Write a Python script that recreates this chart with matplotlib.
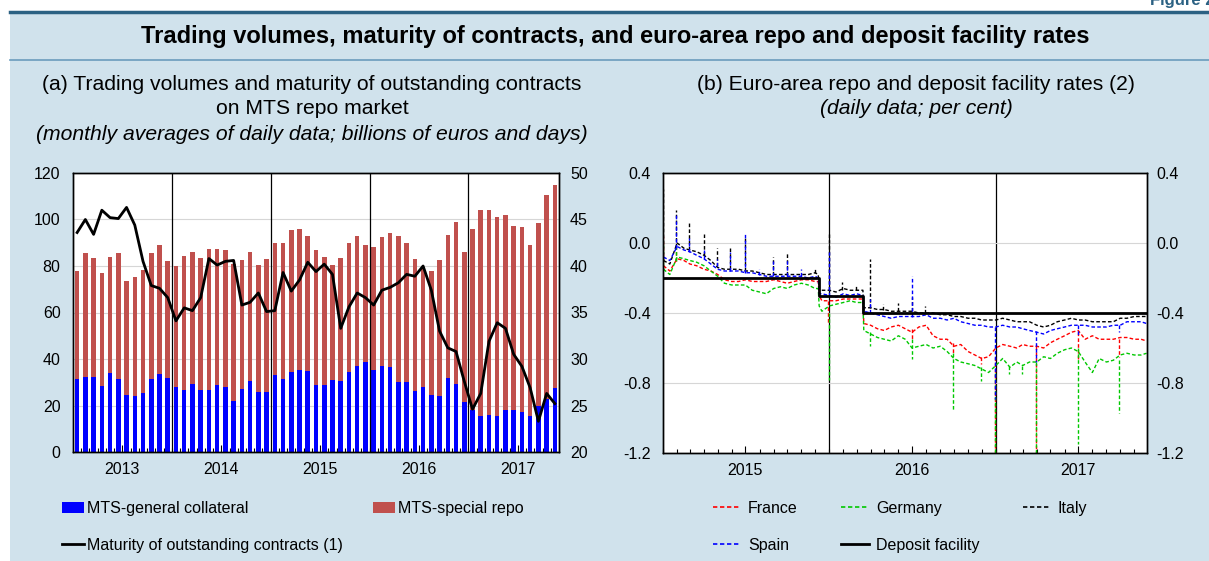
import matplotlib
matplotlib.use("Agg")
import matplotlib.pyplot as plt
import matplotlib.dates as mdates
from matplotlib.lines import Line2D
from matplotlib.patches import Patch, Rectangle
from matplotlib.ticker import FixedLocator, FormatStrFormatter
import numpy as np
import pandas as pd

plt.rcParams['font.family'] = ['Liberation Sans', 'DejaVu Sans']

# ---------------- panel (a): monthly averages, Jan 2013 - Nov 2017
years_a = ['2013', '2014', '2015', '2016', '2017']
# MTS-general collateral (billions of euros)
gc = [31.3, 32.2, 32.2, 28.3, 33.8, 31.5, 24.5, 24.0, 25.3, 31.2, 33.6, 31.8,
      27.8, 26.6, 29.2, 26.6, 26.6, 29.0, 28.0, 21.9, 27.0, 30.5, 25.8, 25.8,
      33.0, 31.2, 34.6, 35.3, 35.0, 29.0, 29.0, 30.9, 30.5, 34.6, 37.2, 38.9,
      35.2, 36.9, 36.5, 30.3, 30.0, 26.2, 27.8, 24.5, 24.0, 32.0, 29.3, 21.5,
      17.9, 15.5, 15.9, 15.5, 17.9, 17.9, 17.2, 15.5, 19.7, 22.6, 27.5]
# MTS-special repo (billions of euros)
special = [46.5, 53.2, 51.3, 48.8, 50.0, 54.3, 49.2, 51.2, 53.1, 54.5, 55.5, 50.5,
           52.3, 57.8, 56.9, 56.9, 60.8, 58.3, 59.0, 58.9, 55.5, 55.6, 54.7, 57.3,
           57.1, 58.9, 61.0, 60.4, 57.8, 57.7, 54.8, 49.6, 52.8, 55.4, 55.8, 50.2,
           52.8, 55.7, 57.9, 62.5, 60.1, 56.6, 51.7, 53.3, 58.4, 61.4, 69.7, 64.6,
           78.2, 88.5, 88.0, 85.5, 84.1, 79.2, 79.5, 73.6, 78.7, 88.0, 87.4]
# maturity of outstanding contracts (days, right scale)
maturity = [43.6, 45.0, 43.4, 46.0, 45.2, 45.1, 46.3, 44.4, 40.5, 37.9, 37.6, 36.6,
            34.1, 35.5, 35.2, 36.6, 40.8, 40.1, 40.5, 40.6, 35.8, 36.1, 37.1, 35.1,
            35.2, 39.3, 37.3, 38.5, 40.4, 39.4, 40.2, 39.1, 33.3, 35.6, 37.1, 36.6,
            35.8, 37.4, 37.7, 38.2, 39.1, 38.9, 40.0, 37.4, 33.0, 31.2, 30.8, 27.6,
            24.6, 26.3, 31.9, 33.9, 33.3, 30.5, 29.2, 26.9, 23.3, 26.3, 25.2]

# ---------------- panel (b): repo rates (per cent)
rate_dates = ['2015-01-02', '2015-01-16', '2015-02-01', '2015-02-16', '2015-03-01', '2015-03-16',
              '2015-04-01', '2015-04-16', '2015-05-01', '2015-05-16', '2015-06-01', '2015-06-16',
              '2015-07-01', '2015-07-16', '2015-08-01', '2015-08-16', '2015-09-01', '2015-09-16',
              '2015-10-01', '2015-10-16', '2015-11-01', '2015-11-16', '2015-12-01', '2015-12-08',
              '2015-12-10', '2015-12-16',
              '2016-01-01', '2016-01-16', '2016-02-01', '2016-02-16', '2016-03-01', '2016-03-15',
              '2016-03-17', '2016-04-01', '2016-04-16', '2016-05-01', '2016-05-16', '2016-06-01',
              '2016-06-16', '2016-07-01', '2016-07-16', '2016-08-01', '2016-08-16', '2016-09-01',
              '2016-09-16', '2016-10-01', '2016-10-16', '2016-11-01', '2016-11-16', '2016-12-01',
              '2016-12-16',
              '2017-01-01', '2017-01-16', '2017-02-01', '2017-02-16', '2017-03-01', '2017-03-16',
              '2017-04-01', '2017-04-16', '2017-05-01', '2017-05-16', '2017-06-01', '2017-06-16',
              '2017-07-01', '2017-07-16', '2017-08-01', '2017-08-16', '2017-09-01', '2017-09-16',
              '2017-10-01', '2017-10-16', '2017-11-01', '2017-11-16', '2017-11-28']

italy = [-0.10, -0.12, 0.00, -0.03, -0.04, -0.05, -0.07, -0.10, -0.14, -0.15, -0.15, -0.15,
         -0.16, -0.16, -0.17, -0.18, -0.18, -0.18, -0.18, -0.18, -0.18, -0.18, -0.17, -0.18,
         -0.27, -0.27,
         -0.27, -0.28, -0.26, -0.27, -0.27, -0.27, -0.37, -0.37, -0.38, -0.38, -0.39, -0.39,
         -0.39, -0.39, -0.40, -0.40, -0.40, -0.41, -0.41, -0.42, -0.42, -0.43, -0.43, -0.44,
         -0.44,
         -0.44, -0.43, -0.44, -0.45, -0.45, -0.45, -0.47, -0.48, -0.47, -0.45, -0.44, -0.43,
         -0.44, -0.44, -0.45, -0.45, -0.45, -0.45, -0.43, -0.43, -0.42, -0.42, -0.42]
spain = [-0.08, -0.10, -0.02, -0.04, -0.05, -0.07, -0.09, -0.12, -0.15, -0.16, -0.16, -0.16,
         -0.17, -0.17, -0.18, -0.19, -0.19, -0.19, -0.19, -0.19, -0.19, -0.20, -0.19, -0.20,
         -0.29, -0.29,
         -0.30, -0.31, -0.29, -0.30, -0.29, -0.30, -0.39, -0.40, -0.41, -0.42, -0.43, -0.42,
         -0.42, -0.42, -0.42, -0.41, -0.43, -0.43, -0.44, -0.43, -0.45, -0.46, -0.47, -0.47,
         -0.48,
         -0.48, -0.47, -0.48, -0.48, -0.49, -0.50, -0.51, -0.52, -0.50, -0.49, -0.48, -0.47,
         -0.47, -0.47, -0.48, -0.48, -0.48, -0.47, -0.47, -0.45, -0.45, -0.45, -0.46]
france = [-0.13, -0.16, -0.09, -0.10, -0.12, -0.13, -0.15, -0.16, -0.18, -0.21, -0.22, -0.22,
          -0.21, -0.22, -0.22, -0.22, -0.21, -0.22, -0.23, -0.22, -0.21, -0.21, -0.22, -0.22,
          -0.30, -0.33,
          -0.33, -0.33, -0.32, -0.32, -0.32, -0.32, -0.46, -0.47, -0.49, -0.50, -0.48, -0.47,
          -0.49, -0.51, -0.48, -0.47, -0.53, -0.55, -0.55, -0.59, -0.58, -0.62, -0.64, -0.66,
          -0.65,
          -0.60, -0.58, -0.59, -0.60, -0.58, -0.59, -0.59, -0.60, -0.57, -0.55, -0.53, -0.51,
          -0.50, -0.55, -0.53, -0.55, -0.55, -0.55, -0.54, -0.54, -0.55, -0.55, -0.56]
germany = [-0.15, -0.18, -0.08, -0.09, -0.10, -0.11, -0.13, -0.16, -0.19, -0.23, -0.24, -0.24,
           -0.24, -0.27, -0.28, -0.29, -0.26, -0.25, -0.26, -0.24, -0.23, -0.24, -0.26, -0.26,
           -0.36, -0.39,
           -0.36, -0.35, -0.34, -0.33, -0.34, -0.34, -0.50, -0.52, -0.54, -0.55, -0.56, -0.53,
           -0.55, -0.60, -0.59, -0.58, -0.60, -0.59, -0.62, -0.66, -0.68, -0.69, -0.70, -0.72,
           -0.74,
           -0.70, -0.66, -0.71, -0.68, -0.70, -0.68, -0.68, -0.65, -0.66, -0.63, -0.61, -0.60,
           -0.62, -0.68, -0.74, -0.66, -0.68, -0.67, -0.64, -0.63, -0.64, -0.64, -0.63]

# end-of-month spikes: date, level before, tip
italy_spk_dates = ['2015-01-02', '2015-01-30', '2015-02-27', '2015-03-31', '2015-04-30', '2015-05-29',
                   '2015-06-30', '2015-08-31', '2015-09-30', '2015-11-30', '2015-12-31', '2016-01-29',
                   '2016-02-29', '2016-03-31', '2016-04-29', '2016-05-31', '2016-06-30', '2016-07-29']
italy_spk_from = [-0.10, -0.02, -0.04, -0.07, -0.13, -0.15, -0.16, -0.18, -0.18, -0.17, -0.27, -0.27,
                  -0.27, -0.37, -0.38, -0.39, -0.39, -0.40]
italy_spk_to = [0.31, 0.19, 0.12, 0.05, -0.03, -0.03, 0.03, -0.08, -0.05, -0.15, 0.05, -0.22,
                -0.24, -0.09, -0.35, -0.34, -0.31, -0.36]

spain_spk_dates = ['2015-01-30', '2015-02-27', '2015-03-31', '2015-04-30', '2015-05-29', '2015-06-30',
                   '2015-07-31', '2015-08-31', '2015-09-30', '2015-10-30', '2015-12-31', '2016-03-31',
                   '2016-06-30', '2016-12-30', '2017-03-31', '2017-06-30', '2017-09-29']
spain_spk_from = [-0.03, -0.05, -0.09, -0.13, -0.16, -0.17, -0.18, -0.19, -0.19, -0.19, -0.30, -0.40,
                  -0.42, -0.48, -0.50, -0.47, -0.47]
spain_spk_to = [0.16, 0.03, -0.04, -0.09, -0.05, 0.06, -0.15, -0.10, -0.09, -0.15, -0.05, -0.32,
                -0.19, -0.89, -0.68, -0.53, -0.51]

france_spk_dates = ['2015-01-02', '2015-01-30', '2015-12-30', '2016-06-30', '2016-09-30', '2016-11-30',
                    '2016-12-30', '2017-03-31', '2017-06-30', '2017-09-29']
france_spk_from = [-0.14, -0.10, -0.33, -0.49, -0.57, -0.65, -0.65, -0.59, -0.51, -0.55]
france_spk_to = [0.04, -0.02, -0.46, -0.55, -0.63, -0.69, -1.25, -1.25, -0.66, -0.65]

germany_spk_dates = ['2015-01-02', '2015-01-30', '2015-12-31', '2016-03-31', '2016-06-30', '2016-09-30',
                     '2016-11-30', '2016-12-30', '2017-01-31', '2017-02-28', '2017-03-31', '2017-06-30',
                     '2017-09-29']
germany_spk_from = [-0.16, -0.10, -0.40, -0.51, -0.55, -0.63, -0.71, -0.74, -0.70, -0.70, -0.68, -0.60,
                    -0.67]
germany_spk_to = [0.01, -0.02, -0.78, -0.59, -0.66, -0.96, -0.79, -1.25, -0.75, -0.75, -1.25, -1.15,
                  -0.97]

depo_dates = ['2015-01-01', '2015-12-09', '2016-03-16', '2017-11-30']
depo = [-0.20, -0.30, -0.40, -0.40]

# ---------------- layout
W, H = 1209, 561
BG = '#d0e2ec'
BLUE = '#0000ff'
RED = '#c0504d'
TICK_FS = 11.5
LEG_FS = 11.5
SUB_FS = 15.2


def fx(px):
    return px / W


def fy(py):
    return 1 - py / H


fig = plt.figure(figsize=(W / 100, H / 100), dpi=100, facecolor='white')
fig.patches.append(Rectangle((fx(10), 0), 1 - fx(10), fy(12), transform=fig.transFigure,
                             facecolor=BG, edgecolor='none', zorder=-10))
fig.add_artist(Line2D([fx(10), 1], [fy(12), fy(12)], color='#2b6183', lw=2.5))
fig.add_artist(Line2D([fx(10), 1], [fy(60), fy(60)], color='#6b9cbd', lw=1.2))
fig.text(fx(1150), fy(1), 'Figure 2.', ha='left', va='center', fontsize=12,
         weight='bold', color='#2b6183')
fig.text(fx(615), fy(37), 'Trading volumes, maturity of contracts, and euro-area repo and deposit facility rates',
         ha='center', va='center', fontsize=17, weight='bold')

fig.text(fx(312), fy(85), '(a) Trading volumes and maturity of outstanding contracts',
         ha='center', va='center', fontsize=SUB_FS)
fig.text(fx(312), fy(109), 'on MTS repo market', ha='center', va='center', fontsize=SUB_FS)
fig.text(fx(312), fy(134), '(monthly averages of daily data; billions of euros and days)',
         ha='center', va='center', fontsize=SUB_FS, style='italic')
fig.text(fx(916), fy(85), '(b) Euro-area repo and deposit facility rates (2)',
         ha='center', va='center', fontsize=SUB_FS)
fig.text(fx(916), fy(109), '(daily data; per cent)', ha='center', va='center',
         fontsize=SUB_FS, style='italic')

# ---------------- panel (a)
ax1 = fig.add_axes([fx(73), fy(452), (559 - 73) / W, (452 - 173) / H])
x = np.arange(len(gc))
ax1.bar(x, gc, width=0.55, color=BLUE, zorder=2)
ax1.bar(x, special, bottom=gc, width=0.55, color=RED, zorder=2)
ax1.set_xlim(-0.5, len(gc) - 0.5)
ax1.set_ylim(0, 120)
ax1.set_yticks(range(0, 121, 20))
ax1.grid(axis='y', color='#d6d6d6', lw=0.8, zorder=0)
for k in range(1, len(years_a)):
    ax1.axvline(12 * k - 0.5, color='black', lw=0.9, zorder=3)
ax1.set_xticks([12 * k + 5.5 for k in range(len(years_a))])
ax1.set_xticklabels(years_a)
ax1.xaxis.set_minor_locator(FixedLocator(np.arange(len(gc) - 1) + 0.5))
ax1.tick_params(axis='x', which='major', direction='in', length=5, width=0.8,
                labelsize=TICK_FS, pad=7)
ax1.tick_params(axis='x', which='minor', direction='in', length=2.8, width=0.8)
ax1.tick_params(axis='y', length=0, labelsize=TICK_FS, pad=9)

ax1r = ax1.twinx()
ax1r.plot(x, maturity, color='black', lw=2.0, zorder=4)
ax1r.set_ylim(20, 50)
ax1r.set_yticks(range(20, 51, 5))
ax1r.tick_params(axis='y', length=0, labelsize=TICK_FS, pad=8)

h_a = [Patch(facecolor=BLUE), Line2D([], [], color='black', lw=2.0), Patch(facecolor=RED)]
l_a = ['MTS-general collateral', 'Maturity of outstanding contracts (1)', 'MTS-special repo']
fig.legend(h_a, l_a, loc='upper left', bbox_to_anchor=(fx(62), fy(501)), ncol=2,
           frameon=False, fontsize=LEG_FS, borderpad=0, borderaxespad=0,
           handlelength=1.35, handletextpad=0.2, columnspacing=1.9, labelspacing=1.35)

# ---------------- panel (b)
ax2 = fig.add_axes([fx(663), fy(453), (1147 - 663) / W, (453 - 173) / H])
d = pd.to_datetime(rate_dates)
dash = (0, (2.6, 1.6))
series = [(france, france_spk_dates, france_spk_from, france_spk_to, '#ff0000', 'France'),
          (germany, germany_spk_dates, germany_spk_from, germany_spk_to, '#00c800', 'Germany'),
          (italy, italy_spk_dates, italy_spk_from, italy_spk_to, 'black', 'Italy'),
          (spain, spain_spk_dates, spain_spk_from, spain_spk_to, BLUE, 'Spain')]
for vals, sd, sf, st, col, name in series:
    ax2.plot(d, vals, color=col, lw=1.0, ls=dash, zorder=2)
    ax2.vlines(pd.to_datetime(sd), sf, st, colors=col, lw=1.0, linestyles=dash, zorder=2)
ax2.step(pd.to_datetime(depo_dates), depo, where='post', color='black', lw=2.0, zorder=3)

ax2.set_xlim(pd.Timestamp('2015-01-01'), pd.Timestamp('2017-11-29'))
ax2.set_ylim(-1.2, 0.4)
rticks = [-1.2, -0.8, -0.4, 0.0, 0.4]
ax2.set_yticks(rticks)
ax2.yaxis.set_major_formatter(FormatStrFormatter('%.1f'))
ax2.grid(axis='y', color='#d6d6d6', lw=0.8, zorder=0)
for yr in ['2016-01-01', '2017-01-01']:
    ax2.axvline(pd.Timestamp(yr), color='black', lw=0.9, zorder=1)
ax2.xaxis.set_major_locator(mdates.MonthLocator(bymonth=7, bymonthday=1))
ax2.xaxis.set_major_formatter(mdates.DateFormatter('%Y'))
ax2.xaxis.set_minor_locator(mdates.MonthLocator())
ax2.tick_params(axis='x', which='major', direction='in', length=5, width=0.8,
                labelsize=TICK_FS, pad=7)
ax2.tick_params(axis='x', which='minor', direction='in', length=2.8, width=0.8)
ax2.tick_params(axis='y', length=0, labelsize=TICK_FS, pad=9)

ax2r = ax2.twinx()
ax2r.set_ylim(-1.2, 0.4)
ax2r.set_yticks(rticks)
ax2r.yaxis.set_major_formatter(FormatStrFormatter('%.1f'))
ax2r.tick_params(axis='y', length=0, labelsize=TICK_FS, pad=7)

for a in (ax1, ax1r, ax2, ax2r):
    for s in a.spines.values():
        s.set_linewidth(1.0)

h_b = [Line2D([], [], color='#ff0000', lw=1.2, ls=dash), Line2D([], [], color=BLUE, lw=1.2, ls=dash),
       Line2D([], [], color='#00c800', lw=1.2, ls=dash), Line2D([], [], color='black', lw=2.0),
       Line2D([], [], color='black', lw=1.2, ls=dash)]
l_b = ['France', 'Spain', 'Germany', 'Deposit facility', 'Italy']
fig.legend(h_b, l_b, loc='upper left', bbox_to_anchor=(fx(713), fy(501)), ncol=3,
           frameon=False, fontsize=LEG_FS, borderpad=0, borderaxespad=0,
           handlelength=1.75, handletextpad=0.45, columnspacing=2.7, labelspacing=1.35)

fig.savefig('out.png', dpi=100, facecolor=fig.get_facecolor())
